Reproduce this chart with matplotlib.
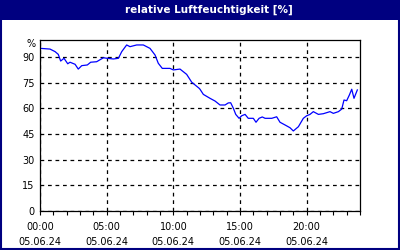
import matplotlib
matplotlib.use('Agg')
import matplotlib.pyplot as plt
from matplotlib.patches import Rectangle

# relative humidity, 05.06.24 (hours since 00:00, percent)
hours = [0.05, 0.75, 1.13, 1.37, 1.55, 1.80, 2.08, 2.25, 2.63, 2.87, 3.13, 3.55,
         3.80, 4.25, 4.75, 5.05, 5.50, 5.88, 6.13, 6.50, 6.75, 7.25, 7.75, 8.25,
         8.63, 8.87, 9.17, 9.75, 10.0, 10.5, 11.0, 11.38, 11.93, 12.0, 12.25, 12.75,
         13.13, 13.5, 13.88, 14.12, 14.30, 14.5, 14.68, 14.93, 15.13, 15.38, 15.62, 16.0,
         16.2, 16.43, 16.67, 16.88, 17.38, 17.75, 18.0, 18.38, 18.75, 19.0, 19.38, 19.75,
         20.0, 20.25, 20.5, 20.88, 21.25, 21.75, 22.0, 22.38, 22.63, 22.80, 23.0, 23.2,
         23.38, 23.55, 23.8]
humidity = [95.1, 94.7, 93.2, 91.6, 87.7, 89.3, 86.1, 87.0, 85.8, 83.0, 85.0, 85.4,
            87.0, 87.3, 89.6, 89.3, 88.9, 89.3, 93.2, 97.1, 96.1, 97.1, 97.1, 95.1,
            91.2, 86.4, 83.4, 83.4, 82.5, 83.0, 79.9, 75.3, 71.8, 71.2, 68.2, 65.9,
            64.3, 62.0, 62.0, 63.2, 63.3, 60.1, 56.5, 54.2, 55.7, 56.5, 54.2, 54.2,
            51.9, 54.2, 55.0, 54.2, 54.2, 55.1, 51.9, 50.3, 48.7, 46.8, 49.3, 54.2,
            55.7, 56.5, 58.1, 56.5, 56.9, 58.1, 57.1, 58.1, 59.6, 64.9, 64.5, 67.8,
            71.2, 65.9, 70.8]

yticks = [0, 15, 30, 45, 60, 75, 90]
xticks = [0, 5, 10, 15, 20]
xlabels = ['00:00\n05.06.24', '05:00\n05.06.24', '10:00\n05.06.24',
           '15:00\n05.06.24', '20:00\n05.06.24']
title = 'relative Luftfeuchtigkeit [%]'

navy = '#000080'
fs = 7

fig = plt.figure(figsize=(4, 2.5), dpi=100)
fig.patch.set_facecolor('white')

# frame and title bar
fig.patches.append(Rectangle((0, 0.92), 1, 0.08, transform=fig.transFigure,
                             facecolor=navy, edgecolor='none', zorder=0))
fig.patches.append(Rectangle((0.0025, 0.004), 0.995, 0.992, transform=fig.transFigure,
                             facecolor='none', edgecolor=navy, linewidth=1.5, zorder=1))
fig.text(0.522, 0.96, title, color='white', fontsize=7.5, fontweight='bold',
         ha='center', va='center')

ax = fig.add_axes([0.1, 0.156, 0.8, 0.684])
ax.plot(hours, humidity, color='#0000FF', linewidth=0.9)

ax.set_xlim(0, 24)
ax.set_ylim(0, 100)
ax.set_xticks(xticks)
ax.set_xticklabels(xlabels, fontsize=fs, linespacing=1.55)
ax.set_xticks(range(0, 25), minor=True)
ax.set_yticks(yticks)
ax.set_yticklabels([str(v) for v in yticks], fontsize=fs)
ax.tick_params(axis='x', which='both', direction='out', length=3, width=0.8, pad=5)
ax.tick_params(axis='y', length=0, pad=4)
ax.text(-0.35, 97.5, '%', fontsize=fs, ha='right', va='center')

ax.grid(True, which='major', color='black', linestyle=(0, (3, 3)), linewidth=0.9)
for s in ax.spines.values():
    s.set_linewidth(0.9)
    s.set_color('black')

plt.savefig('out.png', dpi=100)
